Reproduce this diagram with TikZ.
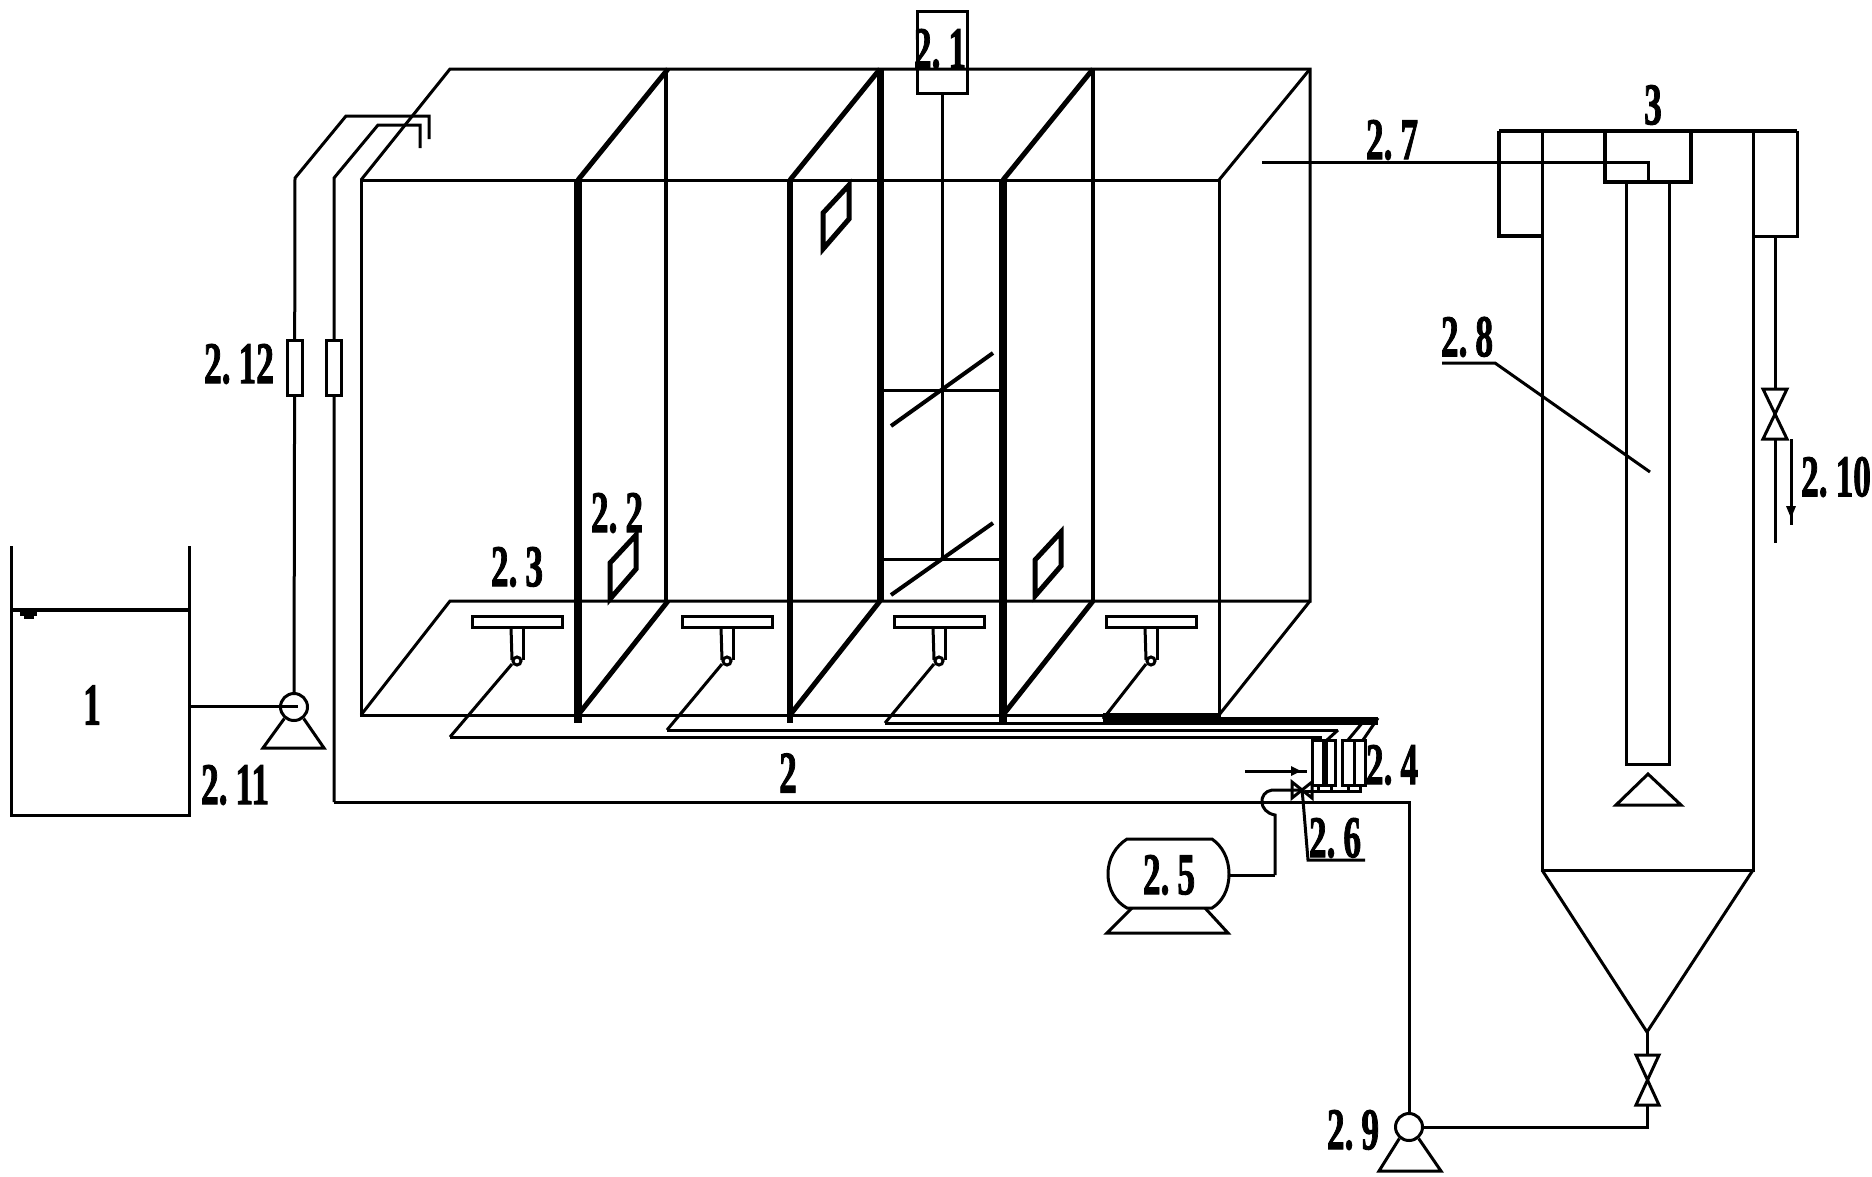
\documentclass[tikz,border=0pt]{standalone}
\usepackage{fontspec}
\setmainfont{Liberation Serif}
\newfontfamily\tagfont[UprightFont={* Bold}, FakeBold=2, WordSpace=0.56]{Liberation Serif}
\tikzset{
	plain/.style = {line width = 3pt, line join = miter},
	thin wall/.style = {line width = 5pt},
	thick wall/.style = {line width = 8pt},
	tag/.style = {inner sep = 0pt, xscale = 0.6, font = \fontsize{59}{59}\tagfont},
	pump/.style = {circle, draw, plain, fill = white, minimum size = 27pt, inner sep = 0pt},
	meter/.style = {draw, plain, fill = white}
}
\begin{document}
\begin{tikzpicture}[x=1pt, y=-1pt, plain]
\useasboundingbox (0,0) rectangle (1872,1176);

\draw (11,546)--(11,815)--(189,815)--(189,546);
\draw[line width = 4pt] (11,610)--(189,610);
\fill (20,612) rectangle (37,616);
\fill (24,616) rectangle (34,619);
\node[tag] (tagOne) at (92,705) {1};

\draw (361,180) rectangle (1219,715);
\draw (361,180)--(450,69)--(1310,69)--(1310,601)--(450,601)--(361,715);
\draw (1219,180)--(1310,69);
\draw (1219,715)--(1310,601);

\foreach \i/\j/\w in {578/668/8, 790/880/6, 1003/1093/8}
{
	\draw[line width = \w pt] (\i,180)--(\i,723);
	\draw[thin wall] (\i,180)--(\j,69);
	\draw[thin wall] (\i,715)--(\j,601);
}
\draw[line width = 4pt] (666,69)--(666,601);
\draw[line width = 7pt] (880,69)--(880,601);
\draw[line width = 4pt] (1093,69)--(1093,601);

\draw (942,94)--(942,559);
\draw (881,390)--(1003,390);
\draw (881,559)--(1003,559);
\draw[line width = 4pt] (891,426)--(993,353);
\draw[line width = 4pt] (891,595)--(993,523);
\node[draw, plain, minimum width = 50pt, minimum height = 82pt, inner sep = 0pt] (mixer) at (942,52) {};
\node[tag] (tagMixer) at (940,49) {2. 1};

\foreach \a/\b in {610/563, 823/213, 1035/560}
	\draw[line width = 5pt] (\a,\b)--(\a,\b+36)--(\a+26,\b+6)--(\a+26,\b-28)--cycle;
\node[tag] (tagWindow) at (617,513) {2. 2};

\foreach \c/\ex/\ey in {517/450/737, 727/667/730, 939/885/723, 1151/1103/719}
{
	\draw (\c-45,616) rectangle (\c+45,627);
	\draw (\c-6,627)--(\c-5,660);
	\draw (\c+6,627)--(\c+6,660);
	\draw[fill = white] (\c,661) circle (4pt);
	\draw (\c-5,664)--(\ex,\ey);
}
\node[tag] (tagDiffuser) at (517,567) {2. 3};

\draw (450,737)--(1322,737);
\draw (667,730)--(1338,730);
\draw (885,723)--(1103,723);
\draw[line width = 12pt] (1103,719)--(1218,719);
\draw[thick wall] (1218,721)--(1378,721);
\draw (1378,718)--(1363,740);
\draw (1363,722)--(1348,740);
\draw (1338,730)--(1327,740);
\node[tag] (tagMain) at (788,773) {2};

\draw (1305,791)--(1362,791);
\foreach \x in {1318,1331,1348,1360}
	\draw (\x,780)--(\x,791);
\foreach \a/\b in {1312/1323, 1326/1335, 1342/1354, 1354/1365}
	\draw[meter] (\a,740) rectangle (\b,785);
\node[tag] (tagMeters) at (1392,765) {2. 4};
\draw (1245,771)--(1307,771);
\fill (1291,766)--(1301,771)--(1291,776)--cycle;

\coordinate (blowerValve) at (1302,790);
\draw (blowerValve)--(1272,790) .. controls (1258,792) and (1258,812) .. (1275,815)--(1275,875) coordinate (blowerJoint);
\draw (1292,782)--(1292,798)--(1312,782)--(1312,798)--cycle;
\draw (blowerValve)--(1303,800)--(1308,860)--(1365,860);
\node[tag] (tagValve) at (1335,838) {2. 6};

\draw (1127,839)--(1212,839) .. controls (1222,846) and (1229,858) .. (1229,874) .. controls (1229,890) and (1222,902) .. (1212,908)--(1127,908) .. controls (1116,902) and (1108,890) .. (1108,874) .. controls (1108,858) and (1116,846) .. (1127,839)--cycle;
\coordinate (blowerOut) at (1229,875);
\draw (blowerOut)--(blowerJoint);
\draw (1132,908)--(1107,933)--(1228,933)--(1205,908);
\node[tag] (tagBlower) at (1169,875) {2. 5};

\node[pump] (feedPump) at (294,707) {};
\draw (189,706)--(298,706);
\draw (feedPump.-130)--(263,748)--(324,748)--(feedPump.-50);
\node[tag] (tagFeedPump) at (235,785) {2. 11};
\draw (feedPump)--(295,178)--(346,116)--(429,116)--(429,139);
\node[meter, minimum width = 15pt, minimum height = 55pt, inner sep = 0pt] (feedMeter) at (295,368) {};
\node[tag] (tagFeedMeter) at (239,364) {2. 12};

\node[pump] (backPump) at (1409,1127) {};
\draw (334,802)--(1409,802)--(backPump);
\draw (334,802)--(334,178)--(378,125)--(420,125)--(420,148);
\node[meter, minimum width = 15pt, minimum height = 55pt, inner sep = 0pt] (backMeter) at (334,368) {};
\draw (backPump.-130)--(1379,1171)--(1441,1171)--(backPump.-50);
\node[tag] (tagBackPump) at (1353,1130) {2. 9};

\draw (1262,162)--(1648,162)--(1648,182);
\node[tag] (tagOutlet) at (1392,140) {2. 7};

\draw[line width = 4pt] (1499,131)--(1797,131);
\draw[line width = 4pt] (1499,131)--(1499,236)--(1542,236);
\draw (1753,236)--(1797,236)--(1797,131);
\draw (1542,131)--(1542,870)--(1753,870)--(1753,131);
\draw (1542,870)--(1647,1032)--(1753,870);
\draw[line width = 4pt] (1605,131)--(1605,182)--(1691,182)--(1691,131);
\draw (1626,182)--(1626,764)--(1669,764)--(1669,182);
\draw (1648,774)--(1616,805)--(1681,805)--cycle;
\node[tag] (tagSettlerTop) at (1653,105) {3};

\draw (1442,363)--(1495,363)--(1650,472);
\node[tag] (tagSettler) at (1467,337) {2. 8};

\draw (1775,236)--(1775,389);
\draw (1763,389)--(1787,389)--(1763,439)--(1787,439)--cycle;
\draw (1775,439)--(1775,543);
\draw (1791,439)--(1791,525);
\fill (1786,506)--(1796,506)--(1791,518)--cycle;
\node[tag] (tagDrain) at (1836,477) {2. 10};

\draw (1647,1032)--(1647,1055);
\draw (1636,1055)--(1659,1055)--(1636,1105)--(1659,1105)--cycle;
\draw (1647,1105)--(1647,1127)--(backPump);
\end{tikzpicture}
\end{document}
